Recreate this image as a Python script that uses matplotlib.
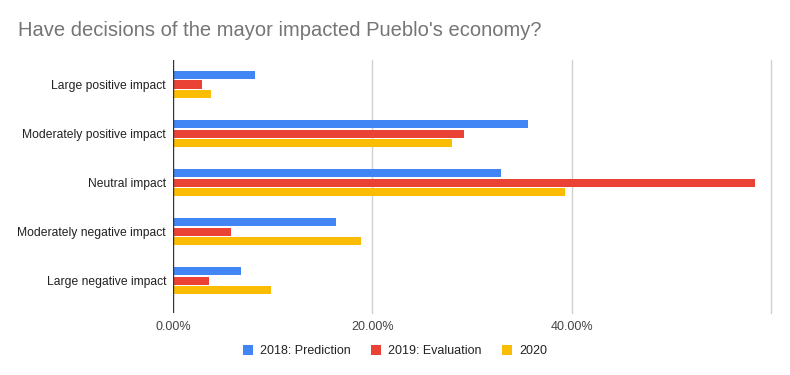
import numpy as np
import matplotlib
matplotlib.use("Agg")
import matplotlib.pyplot as plt
from matplotlib.ticker import FuncFormatter

plt.rcParams['font.family'] = ['Liberation Sans', 'DejaVu Sans']

categories = ["Large positive impact", "Moderately positive impact", "Neutral impact",
              "Moderately negative impact", "Large negative impact"]
prediction_2018 = [8.2, 35.6, 32.9, 16.4, 6.8]
evaluation_2019 = [2.9, 29.2, 58.4, 5.8, 3.6]
survey_2020 = [3.8, 28.0, 39.3, 18.9, 9.8]
series_names = ["2018: Prediction", "2019: Evaluation", "2020"]
colors = ["#4285F4", "#EA4335", "#FBBC04"]

fig = plt.figure(figsize=(7.9, 3.75), dpi=100)
ax = fig.add_axes([173 / 790, 1 - 313 / 375, (771 - 173) / 790, (313 - 60) / 375])

y = np.arange(len(categories))
offsets = [-0.2, 0.0, 0.2]
for vals, off, col, name in zip([prediction_2018, evaluation_2019, survey_2020],
                                offsets, colors, series_names):
    ax.barh(y + off, vals, height=0.165, color=col, label=name, zorder=3)

ax.set_xlim(0, 60)
ax.set_ylim(4.66, -0.5)
ax.set_yticks(y)
ax.set_yticklabels(categories, fontsize=8.7, color="#222222")
ax.set_xticks([0, 20, 40])
ax.xaxis.set_major_formatter(FuncFormatter(lambda v, p: f"{v:.2f}%"))
ax.tick_params(axis="x", labelsize=9, colors="#444444", length=0, pad=6)
ax.tick_params(axis="y", length=0, pad=5)

for gx in [20, 40, 60]:
    ax.axvline(gx, color="#d0d0d0", lw=1, zorder=1, clip_on=False)
ax.axvline(0, color="#333333", lw=1, zorder=4)
for s in ax.spines.values():
    s.set_visible(False)

fig.text(18 / 790, 1 - 30 / 375, "Have decisions of the mayor impacted Pueblo's economy?",
         fontsize=14.5, color="#757575", va="center", ha="left")

fig.legend(loc="center", bbox_to_anchor=(0.5, 1 - 351 / 375), ncol=3, frameon=False,
           fontsize=9, handlelength=0.8, handleheight=0.8, handletextpad=0.6,
           columnspacing=1.6, labelcolor="#222222")

fig.savefig("out.png", dpi=100)
